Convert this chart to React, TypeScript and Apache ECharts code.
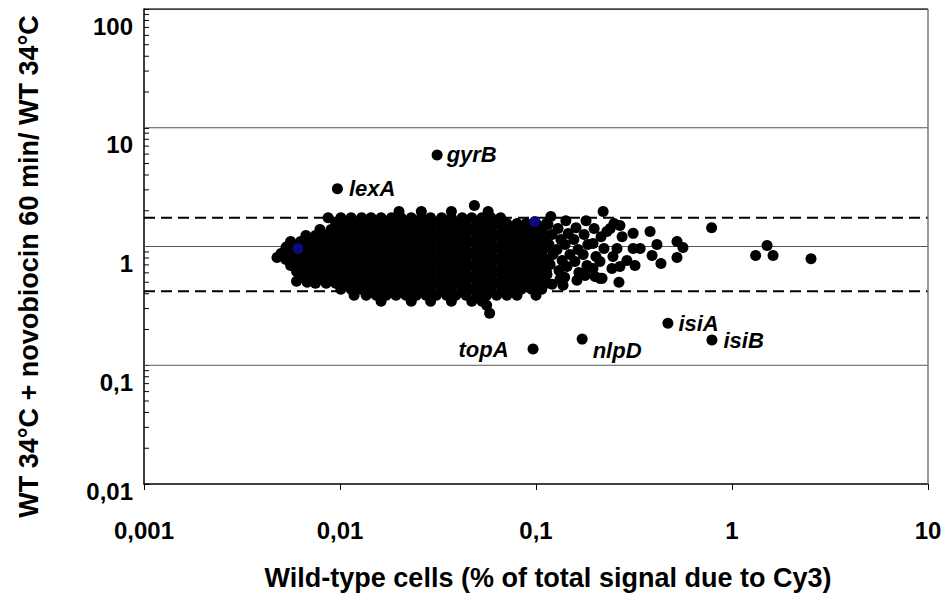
import React, { useEffect, useRef } from "react";
import * as echarts from "echarts";

// ---- axis ticks ----
const xTickValues = [0.001, 0.01, 0.1, 1, 10];
const xTickLabels = ["0,001", "0,01", "0,1", "1", "10"];
const yTickValues = [0.01, 0.1, 1, 10, 100];
const yTickLabels = ["0,01", "0,1", "1", "10", "100"];
const minorMantissas = [2, 3, 4, 5, 6, 7, 8, 9];
const minorDecades = [0.01, 0.1, 1, 10];

// ---- reference lines ----
const gridLineValues = [0.1, 1, 10];
const cutoffValues = [1.75, 0.42];

// ---- labelled genes ----
const geneNames = ["gyrB", "lexA", "topA", "nlpD", "isiA", "isiB"];
const geneX = [0.0313, 0.0097, 0.0966, 0.172, 0.471, 0.79];
const geneY = [5.9, 3.06, 0.137, 0.166, 0.226, 0.163];

// ---- dense cloud of genes, read row by row (ratio level, then signal values) ----
const cloudYLevels = [1.97, 1.75, 1.56, 1.39, 1.24, 1.1, 0.98, 0.874, 0.778, 0.693, 0.617, 0.55, 0.49, 0.436, 0.388, 0.346];
const cloudXRows = [
  [0.02, 0.026, 0.037, 0.057],
  [0.0087, 0.0101, 0.0114, 0.0129, 0.0144, 0.0162, 0.0183, 0.0205, 0.0231, 0.026, 0.029, 0.033, 0.037, 0.042, 0.047, 0.053, 0.059, 0.066],
  [0.0095, 0.0107, 0.0121, 0.0136, 0.0153, 0.0172, 0.0193, 0.0217, 0.0245, 0.0275, 0.031, 0.035, 0.039, 0.044, 0.05, 0.056, 0.063, 0.071, 0.08, 0.089, 0.1, 0.113],
  [0.0079, 0.009, 0.0101, 0.0114, 0.0128, 0.0144, 0.0162, 0.0182, 0.0205, 0.0231, 0.026, 0.029, 0.033, 0.037, 0.042, 0.047, 0.053, 0.059, 0.067, 0.075, 0.084, 0.095, 0.107],
  [0.0067, 0.0075, 0.0085, 0.0095, 0.0107, 0.0121, 0.0136, 0.0153, 0.0172, 0.0193, 0.0217, 0.0245, 0.0275, 0.031, 0.035, 0.039, 0.044, 0.05, 0.056, 0.063, 0.071, 0.08, 0.089, 0.1, 0.113],
  [0.0056, 0.0063, 0.0071, 0.008, 0.009, 0.0101, 0.0114, 0.0128, 0.0144, 0.0162, 0.0182, 0.0205, 0.0231, 0.026, 0.029, 0.033, 0.037, 0.042, 0.047, 0.053, 0.059, 0.067, 0.075, 0.084, 0.095, 0.107],
  [0.0053, 0.006, 0.0067, 0.0075, 0.0085, 0.0095, 0.0107, 0.0121, 0.0136, 0.0153, 0.0172, 0.0193, 0.0217, 0.0245, 0.0275, 0.031, 0.035, 0.039, 0.044, 0.05, 0.056, 0.063, 0.071, 0.08, 0.089, 0.1, 0.113],
  [0.005, 0.0056, 0.0063, 0.0071, 0.008, 0.009, 0.0101, 0.0114, 0.0128, 0.0144, 0.0162, 0.0182, 0.0205, 0.0231, 0.026, 0.029, 0.033, 0.037, 0.042, 0.047, 0.053, 0.059, 0.067, 0.075, 0.084, 0.095, 0.107],
  [0.0053, 0.006, 0.0067, 0.0075, 0.0085, 0.0095, 0.0107, 0.0121, 0.0136, 0.0153, 0.0172, 0.0193, 0.0217, 0.0245, 0.0275, 0.031, 0.035, 0.039, 0.044, 0.05, 0.056, 0.063, 0.071, 0.08, 0.089, 0.1, 0.113],
  [0.0056, 0.0063, 0.0071, 0.008, 0.009, 0.0101, 0.0114, 0.0128, 0.0144, 0.0162, 0.0182, 0.0205, 0.0231, 0.026, 0.029, 0.033, 0.037, 0.042, 0.047, 0.053, 0.059, 0.067, 0.075, 0.084, 0.095, 0.107],
  [0.006, 0.0067, 0.0075, 0.0085, 0.0095, 0.0107, 0.0121, 0.0136, 0.0153, 0.0172, 0.0193, 0.0217, 0.0245, 0.0275, 0.031, 0.035, 0.039, 0.044, 0.05, 0.056, 0.063, 0.071, 0.08, 0.089, 0.1, 0.113],
  [0.0063, 0.0071, 0.008, 0.009, 0.0101, 0.0114, 0.0128, 0.0144, 0.0162, 0.0182, 0.0205, 0.0231, 0.026, 0.029, 0.033, 0.037, 0.042, 0.047, 0.053, 0.059, 0.067, 0.075, 0.084, 0.095, 0.107],
  [0.0075, 0.0085, 0.0095, 0.0107, 0.0121, 0.0136, 0.0153, 0.0172, 0.0193, 0.0217, 0.0245, 0.0275, 0.031, 0.035, 0.039, 0.044, 0.05, 0.056, 0.063, 0.071, 0.08, 0.089, 0.1, 0.113],
  [0.0101, 0.0114, 0.0128, 0.0144, 0.0162, 0.0182, 0.0205, 0.0231, 0.026, 0.029, 0.033, 0.037, 0.042, 0.047, 0.053, 0.059, 0.067, 0.075, 0.084, 0.095, 0.107],
  [0.0118, 0.0136, 0.0153, 0.0172, 0.0193, 0.0217, 0.0245, 0.0275, 0.031, 0.035, 0.039, 0.044, 0.05, 0.056, 0.063, 0.071, 0.08, 0.1],
  [0.0162, 0.0231, 0.029, 0.037, 0.047, 0.053],
];

// ---- looser genes on the right flank of the cloud ----
const flankX = [0.1151, 0.1208, 0.1164, 0.122, 0.118, 0.1138, 0.1208, 0.119, 0.1295, 0.134, 0.128, 0.136, 0.131, 0.1325, 0.142, 0.146, 0.1406, 0.149, 0.144, 0.14, 0.1374, 0.16, 0.156, 0.164, 0.158, 0.1656, 0.1618, 0.18, 0.176, 0.184, 0.174, 0.182, 0.178, 0.198, 0.1954, 0.2023, 0.1954, 0.2, 0.22, 0.2147, 0.2223, 0.212, 0.2173, 0.25];
const flankY = [1.53, 1.26, 1.04, 0.857, 0.706, 0.582, 0.48, 1.79, 1.42, 1.145, 0.944, 0.763, 0.629, 0.529, 1.65, 1.285, 1.04, 0.857, 0.68, 0.55, 0.471, 1.44, 1.145, 0.944, 0.749, 0.605, 0.519, 1.65, 1.26, 1.04, 0.857, 0.693, 0.571, 1.42, 1.06, 0.824, 0.654, 0.56, 1.97, 1.21, 0.962, 0.749, 0.539, 1.56];

// ---- scattered genes outside the cloud ----
const sparseX = [0.239, 0.268, 0.23, 0.275, 0.259, 0.247, 0.244, 0.268, 0.291, 0.313, 0.313, 0.32, 0.34, 0.382, 0.414, 0.391, 0.434, 0.524, 0.562, 0.524, 0.265, 0.212, 0.787, 1.32, 1.51, 1.62, 2.53, 0.0485, 0.00477, 0.00537, 0.006, 0.0068, 0.0072, 0.058, 0.056];
const sparseY = [1.42, 1.5, 1.34, 1.21, 0.962, 0.824, 0.654, 0.68, 0.763, 1.29, 0.962, 0.693, 0.962, 1.34, 1.04, 0.84, 0.72, 1.1, 0.981, 0.809, 0.499, 0.539, 1.44, 0.84, 1.02, 0.84, 0.79, 2.21, 0.809, 1.0, 0.509, 0.5, 1.02, 0.274, 0.32];

// ---- second (navy) group, mostly hidden by the cloud ----
const navyX = [0.0061, 0.0985];
const navyY = [0.962, 1.62];

const FONT = "'Liberation Sans', Arial, sans-serif";

function lookupLabel(v: number, values: number[], labels: string[]) {
  for (let i = 0; i < values.length; i++) {
    if (Math.abs(Math.log10(v) - Math.log10(values[i])) < 1e-6) return labels[i];
  }
  return "";
}

const geneLabelLayout: Record<string, any> = {
  gyrB: { position: "right", distance: 4 },
  lexA: { position: "right", distance: 6 },
  topA: { position: "left", distance: 19 },
  nlpD: { position: "right", distance: 5, offset: [0, 11] },
  isiA: { position: "right", distance: 5 },
  isiB: { position: "right", distance: 6 },
};

export default function App() {
  const ref = useRef<HTMLDivElement>(null);

  useEffect(() => {
    if (!ref.current) return;
    const chart = echarts.init(ref.current, undefined, { renderer: "svg" });

    const cloudData: number[][] = [];
    cloudYLevels.forEach((y, r) => {
      cloudXRows[r].forEach((x) => cloudData.push([x, y]));
    });
    const flankData = flankX.map((x, i) => [x, flankY[i]]);
    const sparseData = sparseX.map((x, i) => [x, sparseY[i]]);
    const navyData = navyX.map((x, i) => [x, navyY[i]]);
    const geneData = geneNames.map((n, i) => ({
      name: n,
      value: [geneX[i], geneY[i]],
      label: {
        show: true,
        formatter: "{b}",
        fontFamily: FONT,
        fontStyle: "italic",
        fontWeight: "bold",
        fontSize: 22,
        color: "#000",
        ...geneLabelLayout[n],
      },
    }));

    const minorTicks: number[][] = [];
    minorDecades.forEach((d) => minorMantissas.forEach((m) => minorTicks.push([0.001, m * d])));

    const xMin = xTickValues[0];
    const xMax = xTickValues[xTickValues.length - 1];
    const yMin = yTickValues[0];
    const yMax = yTickValues[yTickValues.length - 1];

    const lineSeries = (data: number[][], color: string, width: number, type: any) => ({
      type: "line",
      data,
      showSymbol: false,
      symbol: "none",
      silent: true,
      lineStyle: { color, width, type },
      z: 1,
    });

    const scatterBase = {
      type: "scatter",
      symbol: "circle",
      symbolSize: 11,
      silent: true,
      itemStyle: { color: "#000", opacity: 1 },
      z: 3,
    };

    const option: any = {
      animation: false,
      backgroundColor: "#fff",
      grid: { left: 144, right: 21, top: 9, bottom: 110, containLabel: false },
      xAxis: {
        type: "log",
        logBase: 10,
        min: xMin,
        max: xMax,
        name: "Wild-type cells (% of total signal due to Cy3)",
        nameLocation: "middle",
        nameGap: 80,
        nameTextStyle: { fontFamily: FONT, fontSize: 27, fontWeight: "bold", color: "#000", padding: [0, 0, 0, 24] },
        axisLine: { show: true, onZero: false, lineStyle: { color: "#000", width: 1.5 } },
        axisTick: { show: true, inside: false, length: 6, lineStyle: { color: "#000", width: 1 } },
        minorTick: { show: false },
        splitLine: { show: false },
        axisLabel: {
          margin: 34,
          fontFamily: FONT,
          fontSize: 24,
          fontWeight: "bold",
          color: "#000",
          formatter: (v: number) => lookupLabel(v, xTickValues, xTickLabels),
        },
      },
      yAxis: {
        type: "log",
        logBase: 10,
        min: yMin,
        max: yMax,
        name: "WT 34°C + novobiocin 60 min/ WT 34°C",
        nameLocation: "middle",
        nameGap: 102,
        nameTextStyle: { fontFamily: FONT, fontSize: 27, fontWeight: "bold", color: "#000", padding: [0, 40, 0, 0] },
        axisLine: { show: true, onZero: false, lineStyle: { color: "#000", width: 1.5 } },
        axisTick: { show: true, inside: true, length: 5, lineStyle: { color: "#000", width: 1 } },
        minorTick: { show: false },
        splitLine: { show: false },
        axisLabel: {
          margin: 11,
          color: "#000",
          formatter: (v: number) => {
            const s = lookupLabel(v, yTickValues, yTickLabels);
            if (!s) return "";
            return Math.abs(Math.log10(v) + 2) < 1e-6 ? "{b|" + s + "}" : "{a|" + s + "}";
          },
          rich: {
            a: { fontFamily: FONT, fontSize: 24, fontWeight: "bold", color: "#000", padding: [34, 0, 0, 0] },
            b: { fontFamily: FONT, fontSize: 24, fontWeight: "bold", color: "#000", padding: [14, 0, 0, 0] },
          },
        },
      },
      series: [
        ...gridLineValues.map((v) => lineSeries([[xMin, v], [xMax, v]], "#555", 1, "solid")),
        ...cutoffValues.map((v) => lineSeries([[xMin, v], [xMax, v]], "#000", 2, [11, 6])),
        lineSeries([[xMin, yMax], [xMax, yMax]], "#000", 1.5, "solid"),
        lineSeries([[xMax, yMin], [xMax, yMax]], "#777", 1.5, "solid"),
        {
          type: "custom",
          silent: true,
          data: minorTicks,
          z: 4,
          clip: false,
          renderItem: (params: any, api: any) => {
            const p = api.coord([api.value(0), api.value(1)]);
            return {
              type: "line",
              shape: { x1: p[0], y1: p[1], x2: p[0] + 5, y2: p[1] },
              style: { stroke: "#000", lineWidth: 1 },
            };
          },
        },
        { ...scatterBase, data: cloudData },
        { ...scatterBase, data: flankData },
        { ...scatterBase, data: sparseData },
        { ...scatterBase, data: navyData, itemStyle: { color: "#0a0a78", opacity: 1 } },
        { ...scatterBase, data: geneData },
      ],
    };

    chart.setOption(option);
    return () => chart.dispose();
  }, []);

  return (
    <div
      ref={ref}
      style={{ position: "fixed", left: 0, top: 0, width: 949, height: 596, background: "#fff" }}
    />
  );
}
